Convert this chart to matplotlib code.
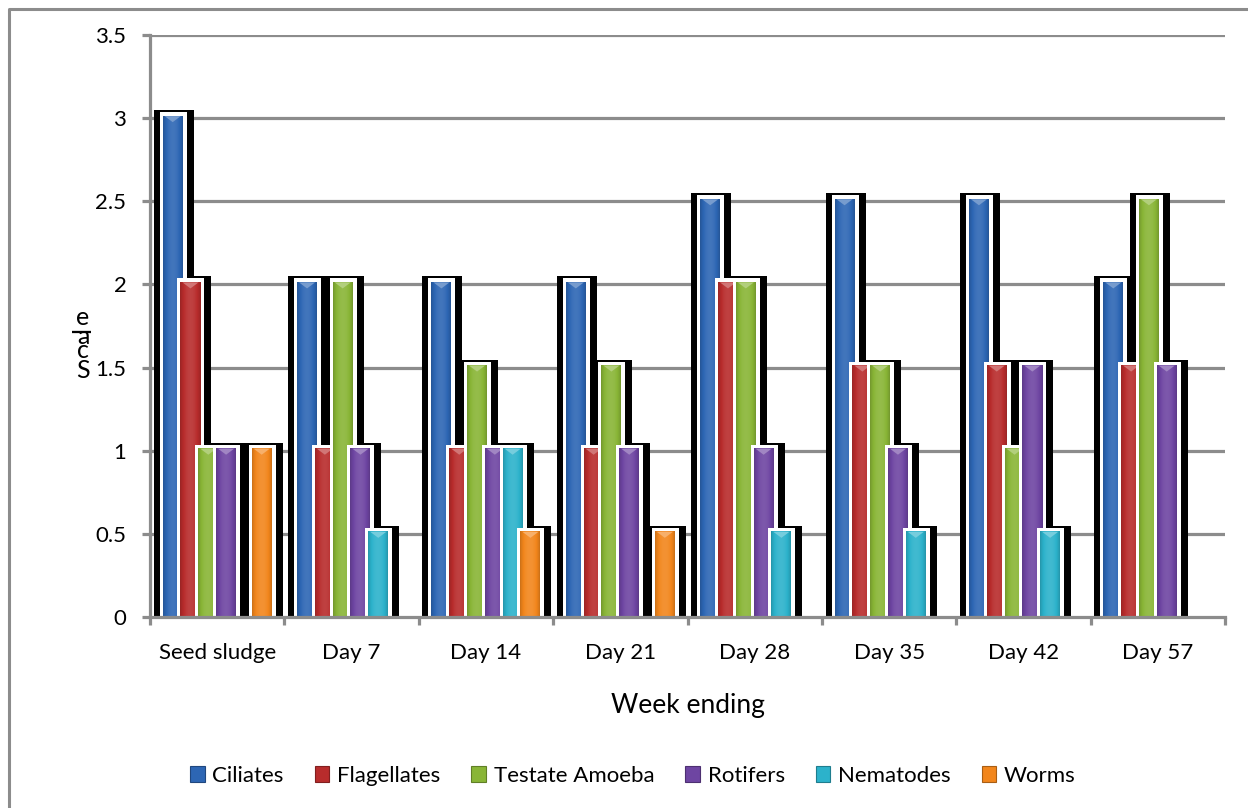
import matplotlib
matplotlib.use('Agg')
import matplotlib.pyplot as plt
from matplotlib.patches import Rectangle, Polygon, Patch
from matplotlib.lines import Line2D
import matplotlib.colors as mcolors
import numpy as np

plt.rcParams['font.family'] = ['Lato', 'DejaVu Sans']

# weekly microfauna scores
days = ['Seed sludge', 'Day 7', 'Day 14', 'Day 21', 'Day 28', 'Day 35', 'Day 42', 'Day 57']
groups = ['Ciliates', 'Flagellates', 'Testate Amoeba', 'Rotifers', 'Nematodes', 'Worms']
ciliates = [3, 2, 2, 2, 2.5, 2.5, 2.5, 2]
flagellates = [2, 1, 1, 1, 2, 1.5, 1.5, 1.5]
testate = [1, 2, 1.5, 1.5, 2, 1.5, 1, 2.5]
rotifers = [1, 1, 1, 1, 1, 1, 1.5, 1.5]
nematodes = [0, 0.5, 1, 0, 0.5, 0.5, 0.5, 0]
worms = [1, 0, 0.5, 0.5, 0, 0, 0, 0]
series = [ciliates, flagellates, testate, rotifers, nematodes, worms]
colors = ['#2d66b4', '#b82c2c', '#89b536', '#6e45a2', '#2cb2cb', '#f2861c']

W, H = 1248, 808
fig = plt.figure(figsize=(W / 100, H / 100), dpi=100)
ax = fig.add_axes([150 / W, (H - 617) / H, (1225 - 150) / W, (617 - 35) / H])
ax.set_xlim(0, 8)
ax.set_ylim(0, 3.5)
ax.set_autoscale_on(False)

# pixel -> data unit helpers
px_x = 8 / (1225 - 150)
px_y = 3.5 / (617 - 35)

step = 17.8 * px_x
fill_w = 20 * px_x

def shade(c, f):
    r, g, b = mcolors.to_rgb(c)
    if f < 1:
        return (r * f, g * f, b * f)
    return tuple(v + (1 - v) * (f - 1) for v in (r, g, b))

t = np.linspace(0, 1, 24)
profile = 0.72 + 0.38 * np.sin(np.pi * np.clip(t * 0.9 + 0.05, 0, 1)) ** 0.6

# all drop shadows go underneath every bar
for k, vals in enumerate(series):
    for i, v in enumerate(vals):
        if v <= 0:
            continue
        c = i + 0.5 + (k - 2.5) * step
        l = c - fill_w / 2
        top = v + 2 * px_y
        ax.add_patch(Rectangle((l - 9 * px_x, 0), fill_w + 20 * px_x, top + 6 * px_y,
                               facecolor='black', edgecolor='none', zorder=2))

for k, (vals, col) in enumerate(zip(series, colors)):
    z = 5 + k * 4
    grad = np.array([shade(col, f) for f in profile])[None, :, :]
    for i, v in enumerate(vals):
        if v <= 0:
            continue
        c = i + 0.5 + (k - 2.5) * step
        l, r = c - fill_w / 2, c + fill_w / 2
        top = v + 2 * px_y
        ax.add_patch(Rectangle((l - 3 * px_x, 0), fill_w + 7 * px_x, top + 4 * px_y,
                               facecolor='white', edgecolor='none', zorder=z))
        ax.imshow(grad, extent=[l, r, 0, top], aspect='auto', interpolation='bilinear',
                  zorder=z + 1)
        ax.add_patch(Polygon([(l + 2 * px_x, top), (r - 2 * px_x, top), (c, top - 6 * px_y)],
                             closed=True, facecolor=shade(col, 1.35), edgecolor='none',
                             zorder=z + 2))

ax.set_xlim(0, 8)
ax.set_ylim(0, 3.5)

# axes styling
grid_c = '#8c8c8c'
for y in np.arange(0.5, 3.51, 0.5):
    ax.axhline(y, color=grid_c, lw=2.3, zorder=1)
for s in ['top', 'right']:
    ax.spines[s].set_visible(False)
ax.spines['left'].set_color(grid_c)
ax.spines['left'].set_linewidth(2.3)
ax.spines['bottom'].set_color(grid_c)
ax.spines['bottom'].set_linewidth(2.3)
ax.spines['bottom'].set_zorder(40)

ax.set_yticks(np.arange(0, 3.51, 0.5))
ax.set_yticklabels(['0', '0.5', '1', '1.5', '2', '2.5', '3', '3.5'])
ax.tick_params(axis='y', length=6, width=2.3, color=grid_c, pad=11, labelsize=16)

ax.set_xticks(np.arange(0, 9))
ax.set_xticklabels([])
ax.tick_params(axis='x', which='major', length=6, width=2.3, color=grid_c)
ax.set_xticks(np.arange(8) + 0.5, minor=True)
ax.set_xticklabels(days, minor=True)
ax.tick_params(axis='x', which='minor', length=0, pad=19, labelsize=16)

fig.text(688 / W, (H - 706) / H, 'Week ending', ha='center', va='center', fontsize=19)

# vertically stacked axis title
for ch, x, y, rot, va in [('S', 83, 378, 0, 'baseline'), ('c', 83, 358, 0, 'baseline'),
                          ('a', 83, 344, 0, 'baseline'), ('l', 83, 330, 90, 'center'),
                          ('e', 83, 325, 0, 'baseline')]:
    fig.text(x / W, (H - y) / H, ch, ha='center', va=va, fontsize=18, rotation=rot)

handles = [Patch(facecolor=c, edgecolor=shade(c, 0.7), linewidth=0.8) for c in colors]
fig.legend(handles, groups, loc='center', bbox_to_anchor=(633 / W, (H - 776) / H),
           ncol=6, frameon=False, fontsize=16, handlelength=0.65, handleheight=0.7,
           handletextpad=0.35, columnspacing=1.4)

# chart area border
fig.add_artist(Line2D([9 / W, 9 / W, 1.0], [0.0, (H - 9) / H, (H - 9) / H],
                      transform=fig.transFigure, color='#8c8c8c', lw=2.2))

fig.savefig('out.png', dpi=100, facecolor='white')
